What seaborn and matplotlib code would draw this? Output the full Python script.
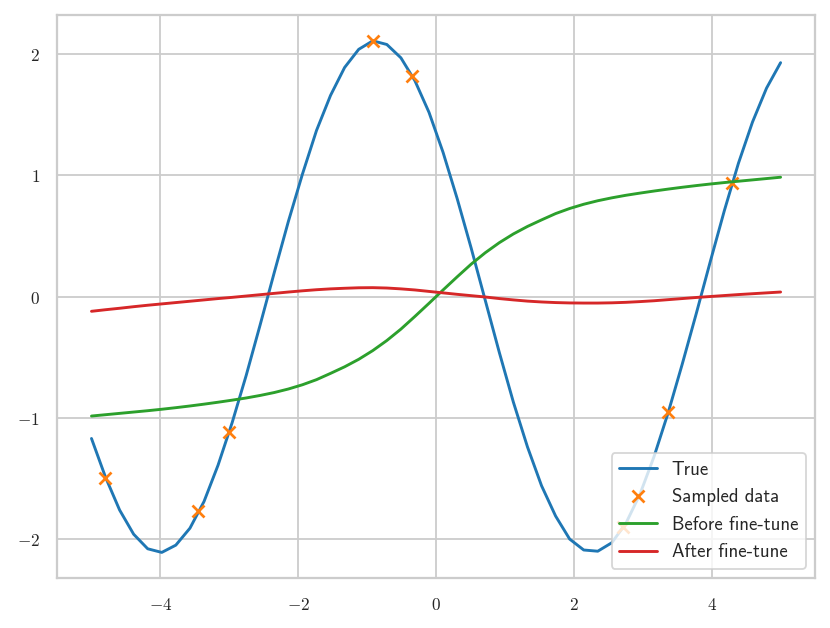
import numpy as np
import matplotlib
matplotlib.use("Agg")
import matplotlib.pyplot as plt
import matplotlib.ticker as mtick
import seaborn as sns

# ── Data ────────────────────────────────────────
X_GRID = [-5.000, -4.796, -4.592, -4.388, -4.184, -3.980, -3.776, -3.571, -3.367, -3.163,
          -2.959, -2.755, -2.551, -2.347, -2.143, -1.939, -1.735, -1.531, -1.327, -1.122,
          -0.918, -0.714, -0.510, -0.306, -0.102, 0.102, 0.306, 0.510, 0.714, 0.918,
          1.122, 1.327, 1.531, 1.735, 1.939, 2.143, 2.347, 2.551, 2.755, 2.959,
          3.163, 3.367, 3.571, 3.776, 3.980, 4.184, 4.388, 4.592, 4.796, 5.000]

TRUE_Y = [-1.17, -1.49, -1.76, -1.96, -2.08, -2.11, -2.05, -1.91, -1.69, -1.39,
          -1.04, -0.65, -0.23, 0.20, 0.62, 1.01, 1.37, 1.66, 1.89, 2.04,
          2.11, 2.08, 1.97, 1.78, 1.52, 1.19, 0.81, 0.40, -0.03, -0.46,
          -0.87, -1.24, -1.56, -1.81, -2.00, -2.09, -2.10, -2.03, -1.87, -1.63,
          -1.32, -0.96, -0.56, -0.14, 0.29, 0.71, 1.10, 1.44, 1.72, 1.93]

BEFORE_Y = [-0.985, -0.974, -0.963, -0.952, -0.941, -0.929, -0.916, -0.902, -0.887, -0.871,
            -0.854, -0.836, -0.815, -0.791, -0.762, -0.727, -0.685, -0.633, -0.579, -0.517,
            -0.445, -0.362, -0.268, -0.163, -0.055, 0.055, 0.163, 0.268, 0.362, 0.445,
            0.517, 0.579, 0.633, 0.685, 0.727, 0.762, 0.791, 0.815, 0.836, 0.854,
            0.871, 0.887, 0.902, 0.916, 0.929, 0.941, 0.952, 0.963, 0.974, 0.985]

AFTER_Y = [-0.121, -0.108, -0.096, -0.083, -0.071, -0.060, -0.049, -0.038, -0.027, -0.016,
           -0.006, 0.005, 0.016, 0.027, 0.038, 0.048, 0.057, 0.064, 0.069, 0.073,
           0.074, 0.071, 0.064, 0.055, 0.043, 0.031, 0.019, 0.008, -0.003, -0.016,
           -0.027, -0.037, -0.044, -0.049, -0.052, -0.053, -0.053, -0.051, -0.047, -0.041,
           -0.034, -0.025, -0.016, -0.007, 0.001, 0.009, 0.017, 0.024, 0.031, 0.038]

SAMPLE_X = [-4.805, -3.457, -3.011, -0.921, -0.354, 2.715, 3.364, 4.300]
SAMPLE_Y = [-1.498, -1.769, -1.120, 2.112, 1.824, -1.900, -0.950, 0.939]

X_TICKS = [-4, -2, 0, 2, 4]
Y_TICKS = [-2, -1, 0, 1, 2]

# ── Style ───────────────────────────────────────
BLUE = "#1f77b4"
ORANGE = "#ff7f0e"
GREEN = "#2ca02c"
RED = "#d62728"

sns.set_theme(style="whitegrid")
plt.rcParams["mathtext.fontset"] = "cm"
plt.rcParams["font.family"] = ["DejaVu Sans"]

DPI = 130
fig = plt.figure(figsize=(830 / DPI, 628 / DPI), dpi=DPI)
ax = fig.add_axes([0.0687, 0.0796, 0.9133, 0.8965])

# ── Lines and samples ───────────────────────────
sns.lineplot(x=X_GRID, y=TRUE_Y, color=BLUE, linewidth=1.6,
             label="True", ax=ax, sort=False)
sns.lineplot(x=SAMPLE_X, y=SAMPLE_Y, color=ORANGE, marker="x",
             linestyle="", markersize=6.8, markeredgewidth=1.5,
             markeredgecolor=ORANGE,
             label="Sampled data", ax=ax, sort=False)
sns.lineplot(x=X_GRID, y=BEFORE_Y, color=GREEN, linewidth=1.6,
             label="Before fine-tune", ax=ax, sort=False)
sns.lineplot(x=X_GRID, y=AFTER_Y, color=RED, linewidth=1.6,
             label="After fine-tune", ax=ax, sort=False)

# ── Axes ────────────────────────────────────────
ax.set_xticks(X_TICKS)
ax.set_yticks(Y_TICKS)
tex_fmt = mtick.FuncFormatter(lambda v, pos: f"${v:g}$")
ax.xaxis.set_major_formatter(tex_fmt)
ax.yaxis.set_major_formatter(tex_fmt)
ax.tick_params(axis="x", labelsize=9.5, length=0, pad=10)
ax.tick_params(axis="y", labelsize=9.5, length=0, pad=9.5)
ax.set_xlabel("")
ax.set_ylabel("")
for side in ax.spines.values():
    side.set_color("#cccccc")

leg = ax.legend(loc="lower right",
                prop={"family": ["cmss10", "DejaVu Sans"], "size": 10.4})
leg.get_frame().set_edgecolor("#cccccc")

fig.savefig("out.png", dpi=DPI)
